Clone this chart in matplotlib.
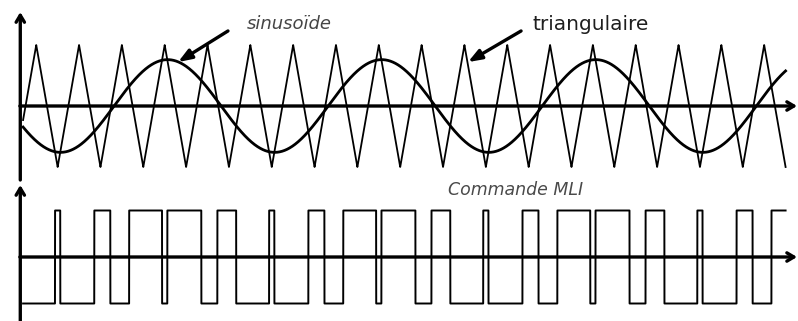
import numpy as np
import matplotlib.pyplot as plt

# signaux : modulante sinusoidale, porteuse triangulaire (periode de la sinusoide = 1)
m_f = 5            # rapport porteuse / modulante
m_a = 0.76         # amplitude de la sinusoide (triangulaire = 1)
t_zero = 0.43      # passage par zero montant de la sinusoide
t_sommet = 0.0665  # premier sommet de la triangulaire
t_debut = 0.005
t_fin = 3.5665

t = np.linspace(t_debut, t_fin, 40000)
sinus = m_a * np.sin(2 * np.pi * (t - t_zero))
tri = 2 / np.pi * np.arcsin(np.cos(2 * np.pi * m_f * (t - t_sommet)))
mli = np.where(sinus > tri, 1.0, -1.0)  # comparaison -> commande MLI

W, H = 798, 321
fig = plt.figure(figsize=(W / 100, H / 100), dpi=100)
ax1 = fig.add_axes([0, 1 - 182 / H, 1, 182 / H])
ax2 = fig.add_axes([0, 0, 1, 139 / H])

xlim = (-22 / 214.1, (W - 22) / 214.1)
for ax in (ax1, ax2):
    ax.set_xlim(*xlim)
    ax.axis('off')
ax1.set_ylim(-76 / 61, 106 / 61)
ax2.set_ylim(-64 / 46.5, 75 / 46.5)

axe = dict(arrowstyle='->, head_length=0.5, head_width=0.3', lw=2.4, color='k', shrinkA=0, shrinkB=0)

# axes du haut
ax1.annotate('', xy=(-0.008, 1.54), xytext=(-0.008, -1.213), arrowprops=axe)
ax1.annotate('', xy=(3.62, 0), xytext=(-0.01, 0), arrowprops=axe)
ax1.plot(t, tri, color='k', lw=1.3)
ax1.plot(t, sinus, color='k', lw=2.0)

# legendes
fleche = dict(arrowstyle='-|>, head_length=0.8, head_width=0.3', lw=2.4, color='k', shrinkA=0, shrinkB=0)
ax1.annotate('', xy=(0.729, 0.72), xytext=(0.962, 1.23), arrowprops=fleche)
ax1.annotate('', xy=(2.083, 0.72), xytext=(2.331, 1.23), arrowprops=fleche)
ax1.text(1.247, 1.34, 'sinusoïde', fontsize=13, style='italic', color='#454545',
         ha='center', va='center')
ax1.text(2.658, 1.33, 'triangulaire', fontsize=14.5, color='#1e1e1e',
         ha='center', va='center')

# axes du bas : commande MLI
ax2.annotate('', xy=(-0.008, 1.548), xytext=(-0.008, -1.376), arrowprops=axe)
ax2.annotate('', xy=(3.62, 0), xytext=(-0.01, 0), arrowprops=axe)
ax2.plot(t, mli, color='k', lw=1.4)
ax2.text(2.303, 1.44, 'Commande MLI', fontsize=12.5, style='italic', color='#4a4a4a',
         ha='center', va='center')

fig.savefig('out.png', dpi=100)
